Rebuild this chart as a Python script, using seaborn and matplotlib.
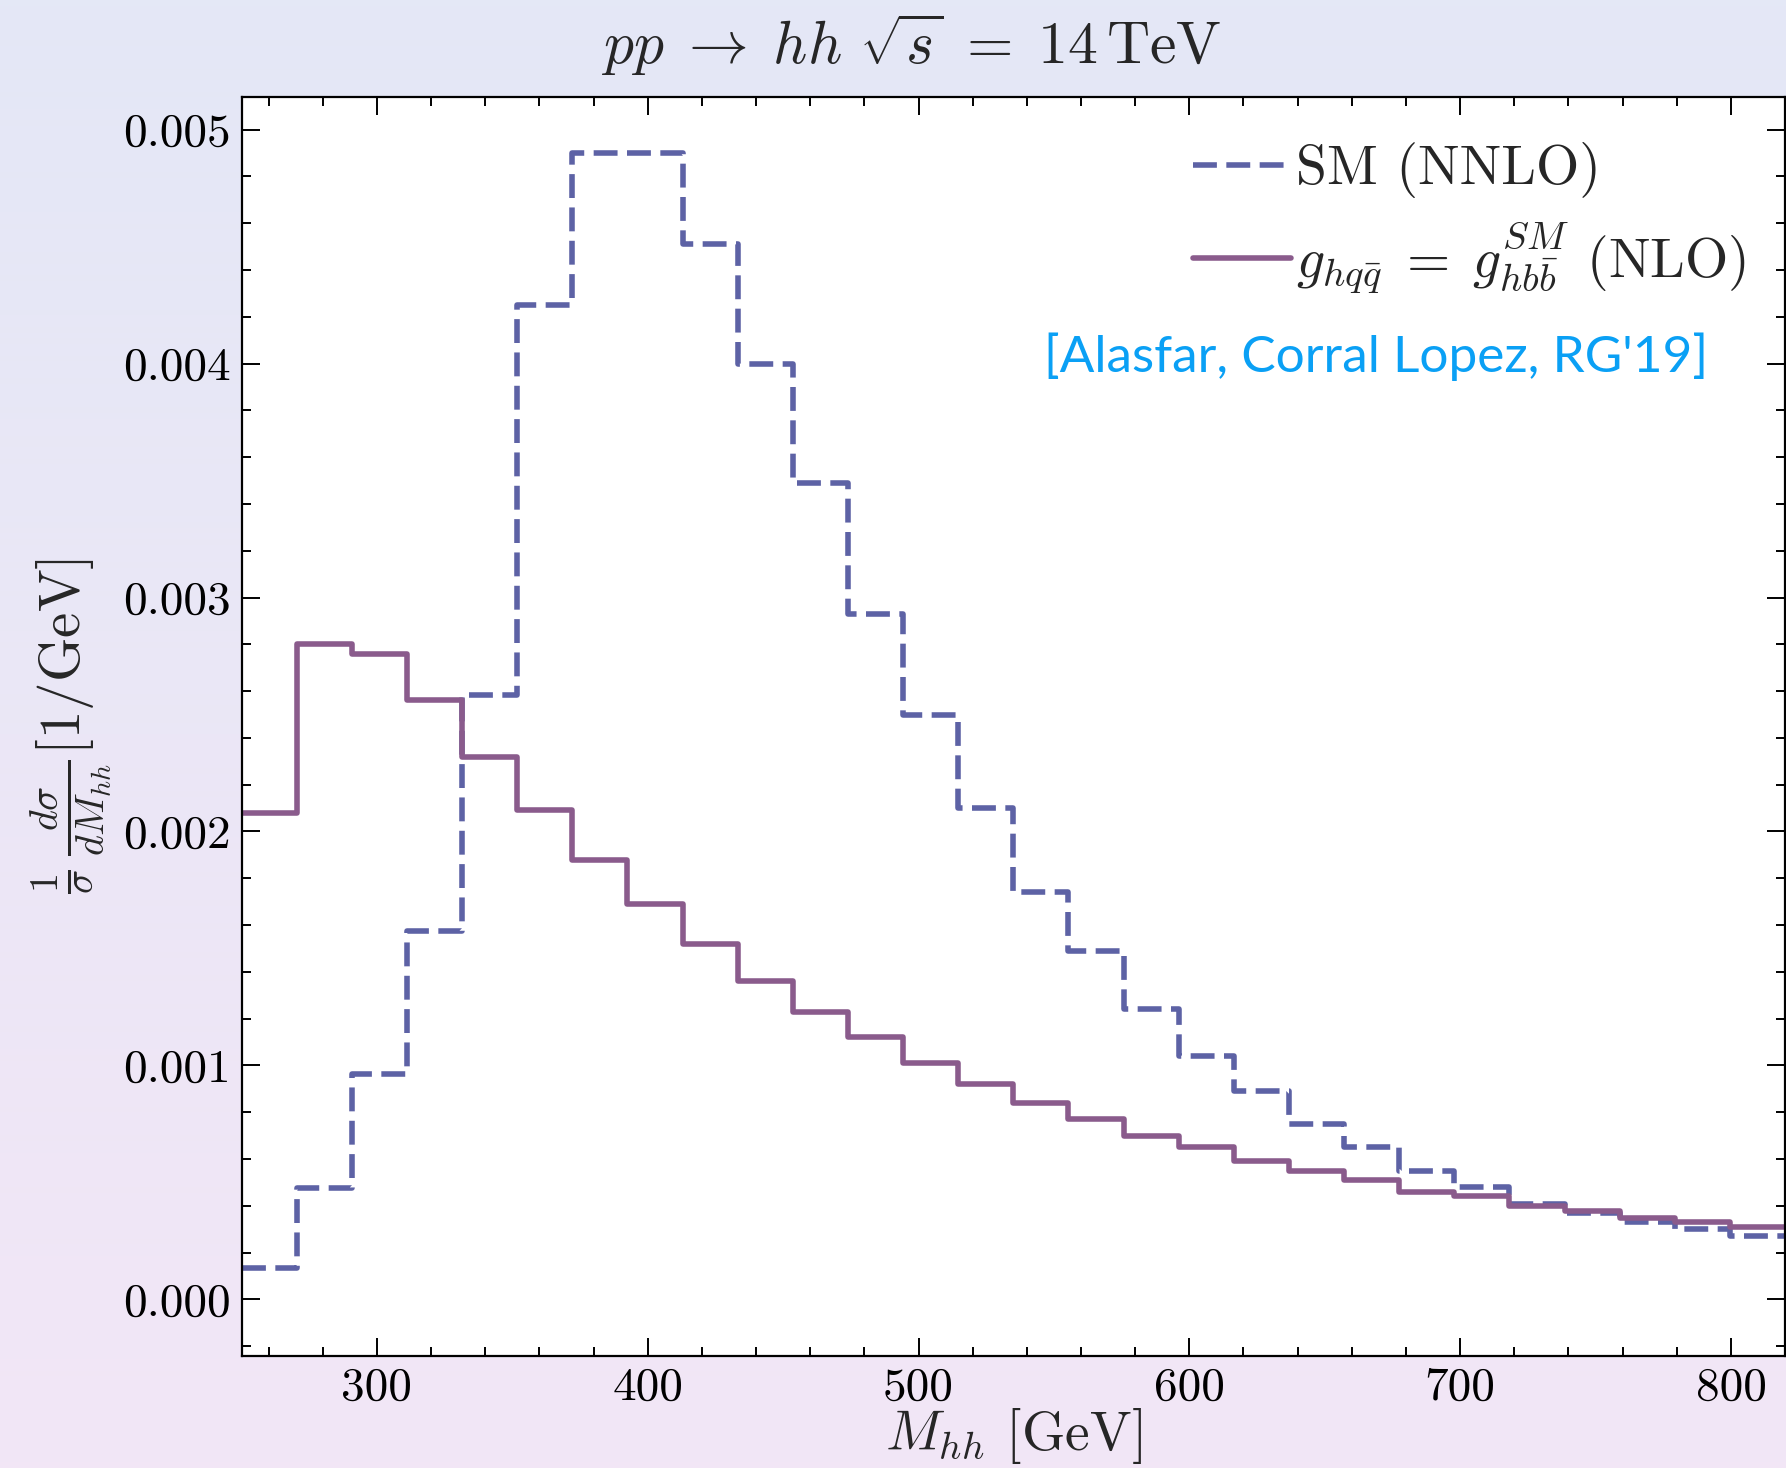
import numpy as np
import pandas as pd
import matplotlib
matplotlib.use("Agg")
import matplotlib.pyplot as plt
import seaborn as sns
from matplotlib.lines import Line2D
from matplotlib.ticker import MultipleLocator

# ---- data ----
bin_edges = list(np.linspace(250, 820, 29))
sm_nnlo = [0.000136, 0.000478, 0.000965, 0.001574, 0.002583, 0.00425, 0.00490, 0.00490,
           0.00451, 0.00400, 0.00349, 0.00293, 0.00250, 0.00210, 0.00174, 0.00149,
           0.00124, 0.00104, 0.00089, 0.00075, 0.00065, 0.00055, 0.00048, 0.00041,
           0.00037, 0.00033, 0.00030, 0.00027]
ghqq_nlo = [0.00208, 0.00280, 0.00276, 0.00256, 0.00232, 0.00209, 0.00188, 0.00169,
            0.00152, 0.00136, 0.00123, 0.00112, 0.00101, 0.00092, 0.00084, 0.00077,
            0.00070, 0.00065, 0.00059, 0.00055, 0.00051, 0.00046, 0.00044, 0.00040,
            0.00038, 0.00035, 0.00033, 0.00031]
series_labels = ["SM (NNLO)", r"$g_{hq\bar{q}}\;=\;g^{SM}_{hb\bar{b}}$ (NLO)"]
xticks = [300, 400, 500, 600, 700, 800]
yticks = [0.000, 0.001, 0.002, 0.003, 0.004, 0.005]

c_sm = "#5d62a5"
c_g = "#8a5b8c"
LW = 4.0
DASH = (4.3, 1.7)

sns.set_theme(style="ticks")
plt.rcParams.update({
    "font.family": "serif",
    "font.serif": ["cmr10"],
    "mathtext.fontset": "cm",
    "axes.unicode_minus": False,
    "axes.formatter.use_mathtext": True,
})

W, H = 1786, 1468
fig = plt.figure(figsize=(W / 100, H / 100), dpi=100)

# gradient background
bg = fig.add_axes([0, 0, 1, 1], zorder=-10)
top = np.array([228, 232, 246]) / 255
bot = np.array([242, 230, 246]) / 255
t = np.linspace(0, 1, 256)[:, None]
grad = (top[None, :] * (1 - t) + bot[None, :] * t)[:, None, :]
bg.imshow(grad, aspect="auto", extent=[0, 1, 0, 1], origin="upper")
bg.set_axis_off()

ax = fig.add_axes([241.5 / W, (H - 1355.6) / H, (W - 241.5) / W - 0.0005, (1355.6 - 96.8) / H])
ax.set_facecolor("white")

centers = 0.5 * (np.array(bin_edges[:-1]) + np.array(bin_edges[1:]))
df = pd.DataFrame({"mhh": centers, "sm": sm_nnlo, "g": ghqq_nlo})
sns.histplot(data=df, x="mhh", weights="sm", bins=bin_edges, element="step", fill=False,
             color=c_sm, linestyle=(0, DASH), linewidth=LW, ax=ax)
sns.histplot(data=df, x="mhh", weights="g", bins=bin_edges, element="step", fill=False,
             color=c_g, linestyle="-", linewidth=LW, ax=ax)

ax.set_xlim(250, 820)
ax.set_ylim(-0.00024, 0.00514)
ax.set_xticks(xticks)
ax.set_yticks(yticks)
ax.set_yticklabels([f"{v:.3f}" for v in yticks])
ax.set_xticklabels([str(v) for v in xticks])
ax.xaxis.set_minor_locator(MultipleLocator(20))
ax.yaxis.set_minor_locator(MultipleLocator(0.0002))
ax.tick_params(which="both", direction="in", top=True, right=True, colors="black",
               labelsize=34, width=1.4)
ax.tick_params(which="major", length=13, pad=8)
ax.tick_params(which="minor", length=6.5)
for s in ax.spines.values():
    s.set_linewidth(1.6)
    s.set_color("black")

ax.set_xlabel(r"$M_{hh}$ [GeV]", fontsize=40, labelpad=-2)
ax.set_ylabel(r"$\frac{1}{\sigma}\,\frac{d\sigma}{dM_{hh}}[1/\mathrm{GeV}]$", fontsize=41, labelpad=6)

handles = [Line2D([], [], color=c_sm, linestyle=(0, DASH), linewidth=LW),
           Line2D([], [], color=c_g, linestyle="-", linewidth=LW)]
ax.legend(handles, series_labels, loc="upper right", frameon=False, fontsize=40,
          handlelength=1.75, handletextpad=0.1, labelspacing=0.4,
          bbox_to_anchor=(1.0, 0.995), borderaxespad=0.3)

fig.text(1376 / W, 1 - 357 / H, "[Alasfar, Corral Lopez, RG'19]", ha="center", va="center",
         color="#0aa0f5", fontsize=37, family="Lato")

fig.text(911 / W, 1 - 45 / H, r"$pp\;\rightarrow\;hh\ \sqrt{s}\;=\;14\,\mathrm{TeV}$",
         ha="center", va="center", fontsize=43)

fig.savefig("out.png", dpi=100)
